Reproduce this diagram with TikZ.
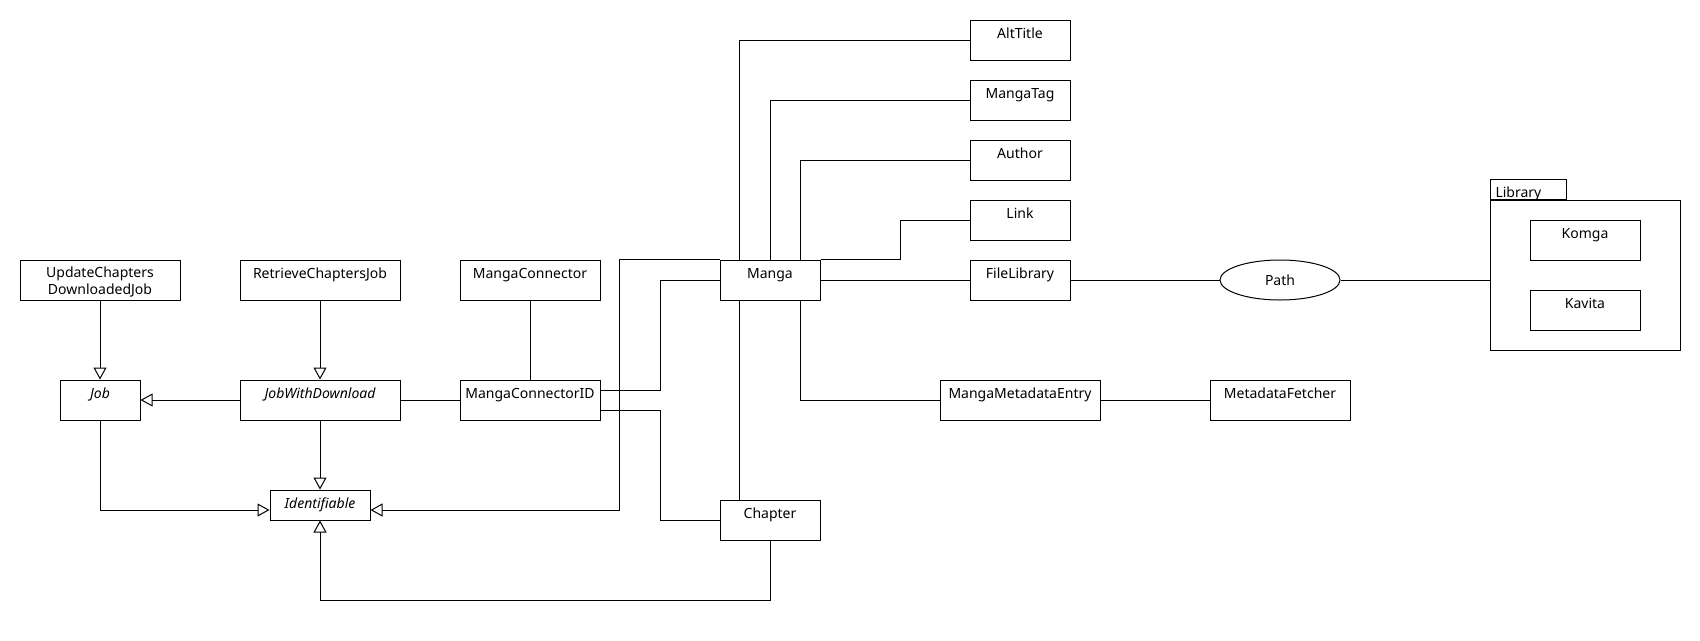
\documentclass[tikz,border=0pt]{standalone}
\usepackage{fontspec}
\setmainfont{Noto Sans}
\usetikzlibrary{arrows.meta,shapes.geometric}
\begin{document}
\begin{tikzpicture}[x=1pt,y=-1pt,line width=1pt,
  every node/.style={font=\fontsize{14}{17}\selectfont},
  box/.style={draw, inner sep=0pt, fill=white},
  cls/.style={box, minimum width=#1, minimum height=40pt, text height=18pt, text depth=22pt},
  gen/.style={-{Triangle[open,length=12pt,width=13pt]}}
]
\path[use as bounding box, fill=white] (0,0) rectangle (1700,640);

% left part
\node[box, minimum width=160pt, minimum height=40pt] (ucdj) at (100,280) {};
\node[inner sep=0pt, align=center, anchor=north] (ucdjtxt) at ([yshift=-7pt]ucdj.north) {UpdateChapters\\DownloadedJob};
\node[cls=160pt] (rcj) at (320,280) {RetrieveChaptersJob};
\node[cls=140pt] (mc) at (530,280) {MangaConnector};
\node[cls=80pt, font=\fontsize{14}{17}\selectfont\itshape] (job) at (100,400) {Job};
\node[cls=160pt, font=\fontsize{14}{17}\selectfont\itshape] (jwd) at (320,400) {JobWithDownload};
\node[cls=140pt] (mcid) at (530,400) {MangaConnectorID};
\node[box, minimum width=100pt, minimum height=30pt, text height=18pt, text depth=12pt, font=\fontsize{14}{17}\selectfont\itshape] (ident) at (320,505) {Identifiable};

% middle
\node[cls=100pt] (manga) at (770,280) {Manga};
\node[cls=100pt] (chapter) at (770,520) {Chapter};
\node[cls=100pt] (alt) at (1020,40) {AltTitle};
\node[cls=100pt] (tag) at (1020,100) {MangaTag};
\node[cls=100pt] (author) at (1020,160) {Author};
\node[cls=100pt] (link) at (1020,220) {Link};
\node[cls=100pt] (filelib) at (1020,280) {FileLibrary};
\node[draw, ellipse, inner sep=0pt, minimum width=120pt, minimum height=40pt] (path) at (1280,280) {Path};
\node[cls=160pt] (mme) at (1020,400) {MangaMetadataEntry};
\node[cls=140pt] (mf) at (1280,400) {MetadataFetcher};

% library package
\node[box, minimum width=190pt, minimum height=150pt] (lib) at (1585,275) {};
\node[box, minimum width=76pt, minimum height=20pt, anchor=south west] (libtab) at (lib.north west) {};
\node[inner sep=0pt, anchor=base west] (libtxt) at (1495,197) {Library};
\node[cls=110pt] (komga) at (1585,240) {Komga};
\node[cls=110pt] (kavita) at (1585,310) {Kavita};

% generalizations
\draw[gen] (ucdj.south) -- (job.north);
\draw[gen] (rcj.south) -- (jwd.north);
\draw[gen] (jwd.west) -- (job.east);
\draw[gen] (job.south) |- ([yshift=-5pt]ident.west);
\draw[gen] (jwd.south) -- (ident.north);
\draw[gen] (manga.north west) -- ++(-100,0) |- ([yshift=-5pt]ident.east);
\draw[gen] (chapter.south) -- ++(0,60) -| (ident.south);

% associations
\draw (jwd.east) -- (mcid.west);
\draw (mc.south) -- (mcid.north);
\draw ([yshift=10pt]mcid.east) -- ++(60,0) |- (manga.west);
\draw ([yshift=-10pt]mcid.east) -- ++(60,0) |- (chapter.west);
\draw ([xshift=20pt]manga.north west) |- (alt.west);
\draw (manga.north) |- (tag.west);
\draw ([xshift=-20pt]manga.north east) |- (author.west);
\draw (manga.north east) -- ++(80,0) |- (link.west);
\draw (manga.east) -- (filelib.west);
\draw (filelib.east) -- (path.west);
\draw (path.east) -- (path.east -| lib.west);
\draw ([xshift=20pt]manga.south west) -- ([xshift=20pt]chapter.north west);
\draw ([xshift=-20pt]manga.south east) |- (mme.west);
\draw (mme.east) -- (mf.west);
\end{tikzpicture}
\end{document}
